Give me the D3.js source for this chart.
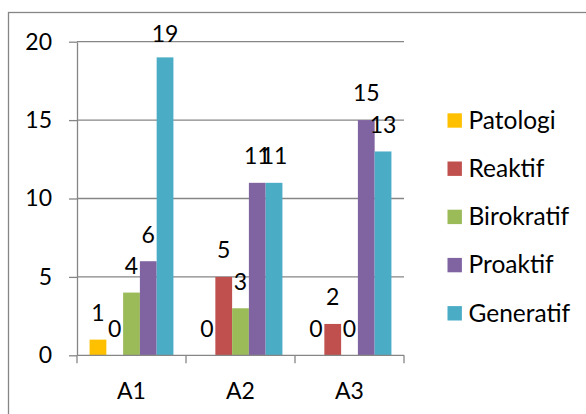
<!DOCTYPE html>
<html>
<head>
<meta charset="utf-8">
<script src="https://cdn.jsdelivr.net/npm/d3@7"></script>
<style>
  html, body { margin: 0; padding: 0; background: #ffffff; }
  svg { display: block; }
  text { font-family: Lato, "Open Sans", sans-serif; fill: #000; }
</style>
</head>
<body>
<svg id="chart" width="586" height="414"></svg>
<script>
// Categories and series
const categories = ["A1", "A2", "A3"];
const seriesNames = ["Patologi", "Reaktif", "Birokratif", "Proaktif", "Generatif"];
const seriesColors = ["#FFC000", "#C0504D", "#9BBB59", "#8064A2", "#4BACC6"];

// Values per series, in category order
const patologi   = [1, 0, 0];
const reaktif    = [0, 5, 2];
const birokratif = [4, 3, 0];
const proaktif   = [6, 11, 15];
const generatif  = [19, 11, 13];

const yTicks = [0, 5, 10, 15, 20];

const seriesValues = [patologi, reaktif, birokratif, proaktif, generatif];

const svg = d3.select("#chart");
const axisColor = "#868686";
const fontSize = 23;

// Chart frame
svg.append("rect")
  .attr("x", 8.5).attr("y", 12.5)
  .attr("width", 620).attr("height", 440)
  .attr("fill", "#fff")
  .attr("stroke", axisColor).attr("stroke-width", 1.3);

const plot = { left: 77, right: 404, top: 41.7, bottom: 355.3 };

const y = d3.scaleLinear().domain([0, 20]).range([plot.bottom, plot.top]);
const x0 = d3.scaleBand().domain(categories).range([plot.left, plot.right]).padding(0);
const x1 = d3.scaleBand().domain(seriesNames).range([0, x0.bandwidth()])
  .paddingInner(0).paddingOuter(0.75);
const color = d3.scaleOrdinal().domain(seriesNames).range(seriesColors);

// Gridlines
svg.append("g")
  .selectAll("line")
  .data(yTicks.filter(d => d > 0))
  .join("line")
  .attr("x1", plot.left).attr("x2", plot.right)
  .attr("y1", d => y(d)).attr("y2", d => y(d))
  .attr("stroke", axisColor).attr("stroke-width", 1.3);

// Y axis
const yAxis = svg.append("g")
  .attr("transform", `translate(${plot.left},0)`)
  .call(d3.axisLeft(y).tickValues(yTicks).tickSize(8).tickPadding(17).tickSizeOuter(0));
yAxis.select(".domain").attr("stroke", axisColor).attr("stroke-width", 1.3);
yAxis.selectAll(".tick line").attr("stroke", axisColor).attr("stroke-width", 1.3);
yAxis.selectAll(".tick text")
  .attr("font-family", "Lato, 'Open Sans', sans-serif")
  .attr("font-size", fontSize).attr("fill", "#000");

// Bars
const groups = svg.append("g")
  .selectAll("g")
  .data(categories)
  .join("g")
  .attr("transform", d => `translate(${x0(d)},0)`);

groups.selectAll("rect")
  .data((c, ci) => seriesNames.map((s, si) => ({ s, v: seriesValues[si][ci] })))
  .join("rect")
  .attr("x", d => x1(d.s))
  .attr("width", x1.bandwidth())
  .attr("y", d => y(d.v))
  .attr("height", d => y(0) - y(d.v))
  .attr("fill", d => color(d.s));

// Value labels (kept inside the plot's top edge)
groups.selectAll("text.val")
  .data((c, ci) => seriesNames.map((s, si) => ({ s, v: seriesValues[si][ci] })))
  .join("text")
  .attr("class", "val")
  .attr("x", d => x1(d.s) + x1.bandwidth() / 2)
  .attr("y", d => Math.max(y(d.v) - 18.7, plot.top))
  .attr("text-anchor", "middle")
  .attr("font-size", fontSize)
  .text(d => d.v);

// X axis
const xAxis = svg.append("g");
xAxis.append("line")
  .attr("x1", plot.left).attr("x2", plot.right)
  .attr("y1", plot.bottom).attr("y2", plot.bottom)
  .attr("stroke", axisColor).attr("stroke-width", 1.3);
const tickXs = categories.map(c => x0(c)).concat([x0(categories[categories.length - 1]) + x0.bandwidth()]);
xAxis.selectAll("line.tick")
  .data(tickXs)
  .join("line")
  .attr("class", "tick")
  .attr("x1", d => d).attr("x2", d => d)
  .attr("y1", plot.bottom).attr("y2", plot.bottom + 8)
  .attr("stroke", axisColor).attr("stroke-width", 1.3);
xAxis.selectAll("text")
  .data(categories)
  .join("text")
  .attr("x", d => x0(d) + x0.bandwidth() / 2)
  .attr("y", 398.5)
  .attr("text-anchor", "middle")
  .attr("font-size", fontSize)
  .text(d => d);

// Legend
const legend = svg.append("g")
  .selectAll("g")
  .data(seriesNames)
  .join("g")
  .attr("transform", (d, i) => `translate(447.5,${120.5 + i * 48.2})`);
legend.append("rect")
  .attr("x", 0).attr("y", -7.2)
  .attr("width", 14.4).attr("height", 14.4)
  .attr("fill", d => color(d));
legend.append("text")
  .attr("x", 21).attr("y", 8.3)
  .attr("font-size", 24.5)
  .text(d => d);
</script>
</body>
</html>
